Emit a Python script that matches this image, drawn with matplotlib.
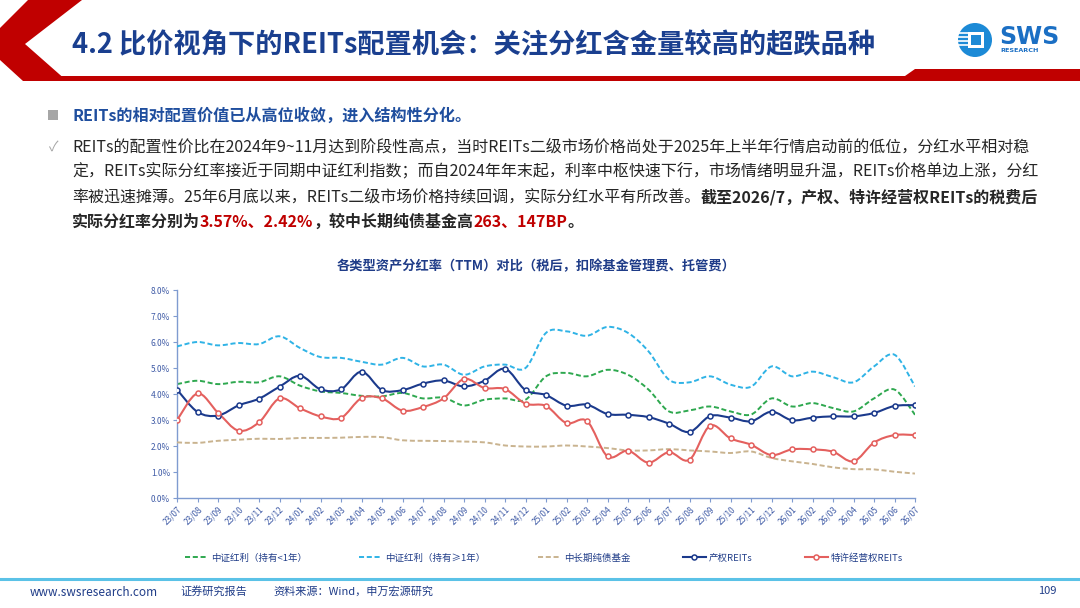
import matplotlib
matplotlib.use('Agg')
import matplotlib.pyplot as plt
from matplotlib.lines import Line2D
from matplotlib.path import Path
from matplotlib.patches import PathPatch, Polygon, Rectangle, Circle

plt.rcParams['font.family'] = ['Noto Sans CJK SC', 'DejaVu Sans']

months = ['23/07', '23/08', '23/09', '23/10', '23/11', '23/12', '24/01', '24/02', '24/03',
          '24/04', '24/05', '24/06', '24/07', '24/08', '24/09', '24/10', '24/11', '24/12',
          '25/01', '25/02', '25/03', '25/04', '25/05', '25/06', '25/07', '25/08', '25/09',
          '25/10', '25/11', '25/12', '26/01', '26/02', '26/03', '26/04', '26/05', '26/06', '26/07']

# 分红率 (%)
dividend_lt1 = [4.38, 4.51, 4.38, 4.47, 4.45, 4.68, 4.32, 4.10, 4.04, 3.93, 3.91, 4.04, 3.83,
                3.86, 3.56, 3.78, 3.83, 3.78, 4.68, 4.81, 4.68, 4.93, 4.74, 4.17, 3.33, 3.37,
                3.52, 3.33, 3.21, 3.83, 3.52, 3.65, 3.46, 3.33, 3.83, 4.17, 3.20]
dividend_ge1 = [5.83, 6.00, 5.87, 5.96, 5.92, 6.22, 5.77, 5.42, 5.39, 5.24, 5.13, 5.39, 5.06,
                5.13, 4.74, 5.06, 5.13, 5.00, 6.35, 6.41, 6.24, 6.58, 6.35, 5.64, 4.55, 4.45,
                4.68, 4.36, 4.28, 5.06, 4.68, 4.86, 4.65, 4.45, 5.06, 5.51, 4.29]
bond_fund = [2.14, 2.12, 2.20, 2.24, 2.28, 2.27, 2.31, 2.31, 2.32, 2.35, 2.34, 2.22, 2.20,
             2.19, 2.17, 2.14, 2.02, 1.98, 1.98, 2.02, 1.98, 1.92, 1.83, 1.83, 1.88, 1.83,
             1.79, 1.73, 1.79, 1.54, 1.41, 1.31, 1.18, 1.11, 1.10, 1.01, 0.94]
reits_property = [4.17, 3.31, 3.17, 3.56, 3.82, 4.28, 4.70, 4.18, 4.18, 4.86, 4.15, 4.15, 4.40,
                  4.52, 4.29, 4.51, 4.97, 4.15, 3.96, 3.55, 3.59, 3.23, 3.20, 3.11, 2.86, 2.54,
                  3.15, 3.09, 2.95, 3.32, 2.99, 3.09, 3.14, 3.14, 3.27, 3.54, 3.57]
reits_franchise = [2.99, 4.02, 3.28, 2.59, 2.91, 3.83, 3.45, 3.14, 3.08, 3.84, 3.83, 3.36, 3.50,
                   3.83, 4.58, 4.23, 4.19, 3.63, 3.54, 2.88, 2.96, 1.60, 1.82, 1.36, 1.76, 1.47,
                   2.78, 2.29, 2.05, 1.65, 1.87, 1.87, 1.78, 1.41, 2.13, 2.42, 2.42]

labels = ['中证红利（持有<1年）', '中证红利（持有≥1年）', '中长期纯债基金', '产权REITs', '特许经营权REITs']
colors = ['#2EA84F', '#2FB3E6', '#C9B38F', '#1B3A8C', '#E4605E']

W, H = 1080, 608
NAVY = '#1A3F8F'
DASH = (0, (2.6, 1.4))


def smooth_path(xs, ys):
    # excel-style smoothed line (catmull-rom as cubic bezier)
    n = len(xs)
    verts = [(xs[0], ys[0])]
    codes = [Path.MOVETO]
    for i in range(n - 1):
        a, b = max(i - 1, 0), min(i + 2, n - 1)
        c1 = (xs[i] + (xs[i + 1] - xs[a]) / 6, ys[i] + (ys[i + 1] - ys[a]) / 6)
        c2 = (xs[i + 1] - (xs[b] - xs[i]) / 6, ys[i + 1] - (ys[b] - ys[i]) / 6)
        verts += [c1, c2, (xs[i + 1], ys[i + 1])]
        codes += [Path.CURVE4] * 3
    return Path(verts, codes)


def draw_runs(ax, x, y, runs, size, renderer):
    for s, color, weight in runs:
        t = ax.text(x, y, s, fontsize=size, color=color, fontweight=weight, va='center', ha='left')
        x += t.get_window_extent(renderer).width


fig = plt.figure(figsize=(W / 100, H / 100), dpi=100)
fig.patch.set_facecolor('white')
bg = fig.add_axes([0, 0, 1, 1])
bg.set_xlim(0, W)
bg.set_ylim(H, 0)
bg.axis('off')
renderer = fig.canvas.get_renderer()

# header
bg.add_patch(Polygon([(28, 0), (82, 0), (25, 44), (67, 81), (23, 81), (0, 60), (0, 28)],
                     closed=True, color='#C00000', lw=0))
bg.add_patch(Polygon([(60, 76), (905, 76), (915, 69), (1080, 69), (1080, 81), (60, 81)],
                     closed=True, color='#C00000', lw=0))
bg.text(72, 45, '4.2 比价视角下的REITs配置机会：关注分红含金量较高的超跌品种', fontsize=19.6,
        fontweight='bold', color=NAVY, va='center', ha='left')

# logo
bg.add_patch(Circle((975, 40), 17, color='#1C8AD6', lw=0))
bg.add_patch(Rectangle((968, 32), 16, 16, color='white', lw=0))
bg.add_patch(Rectangle((971, 35), 10, 10, color='#1C8AD6', lw=0))
for yy in [33, 37, 41, 45]:
    bg.plot([958, 968], [yy, yy], color='white', lw=1.2)
bg.text(999, 37, 'SWS', fontsize=17, fontweight='bold', color='#1B6FC4', va='center', ha='left',
        family='DejaVu Sans')
bg.text(1000, 51, 'RESEARCH', fontsize=4.6, fontweight='bold', color='#1B6FC4', va='center',
        ha='left', family='DejaVu Sans')

# bullet text
bg.add_patch(Rectangle((48, 110), 10, 10, color='#A6A6A6', lw=0))
bg.text(72, 116, 'REITs的相对配置价值已从高位收敛，进入结构性分化。', fontsize=11.6,
        fontweight='bold', color='#1F4E9E', va='center', ha='left')
bg.text(49, 147, '✓', fontsize=10, color='#A6A6A6', va='center', ha='left')

TXT = '#262626'
RED = '#C00000'
body = [
    [('REITs的配置性价比在2024年9~11月达到阶段性高点，当时REITs二级市场价格尚处于2025年上半年行情启动前的低位，分红水平相对稳', TXT, 'normal')],
    [('定，REITs实际分红率接近于同期中证红利指数；而自2024年年末起，利率中枢快速下行，市场情绪明显升温，REITs价格单边上涨，分红', TXT, 'normal')],
    [('率被迅速摊薄。25年6月底以来，REITs二级市场价格持续回调，实际分红水平有所改善。', TXT, 'normal'),
     ('截至2026/7，产权、特许经营权REITs的税费后', TXT, 'bold')],
    [('实际分红率分别为', TXT, 'bold'), ('3.57%、2.42%', RED, 'bold'),
     ('，较中长期纯债基金高', TXT, 'bold'), ('263、147BP', RED, 'bold'), ('。', TXT, 'bold')],
]
for k, runs in enumerate(body):
    draw_runs(bg, 72, 147 + 25 * k, runs, 11.5, renderer)

# chart title
bg.text(536, 266, '各类型资产分红率（TTM）对比（税后，扣除基金管理费、托管费）', fontsize=9.5,
        fontweight='bold', color='#1F3C88', va='center', ha='center')

# footer
bg.plot([0, W], [579, 579], color='#5BC2E7', lw=2.2)
bg.text(30, 592, 'www.swsresearch.com', fontsize=8.5, color='#1F3C88', va='center', ha='left')
bg.text(180, 591, '证券研究报告', fontsize=8, color='#1F3C88', va='center', ha='left')
bg.text(273, 591, '资料来源：Wind，申万宏源研究', fontsize=8, color='#1F3C88', va='center', ha='left')
bg.text(1057, 591, '109', fontsize=8, color='#1F3C88', va='center', ha='right')

# chart
ax = fig.add_axes([177 / W, 1 - 498 / H, (915 - 177) / W, (498 - 290) / H])
ax.patch.set_alpha(0)
x = list(range(len(months)))
series = [dividend_lt1, dividend_ge1, bond_fund, reits_property, reits_franchise]
handles = []
for i, (ys, c, lab) in enumerate(zip(series, colors, labels)):
    dashed = i < 3
    ax.add_patch(PathPatch(smooth_path(x, ys), fill=False, edgecolor=c,
                           lw=1.4 if dashed else 1.5, linestyle=DASH if dashed else '-',
                           zorder=2 + i))
    if dashed:
        handles.append(Line2D([], [], color=c, lw=1.4, linestyle=DASH))
    else:
        ax.plot(x, ys, linestyle='none', marker='o', markersize=3.6, markerfacecolor='white',
                markeredgecolor=c, markeredgewidth=1.1, zorder=8 + i)
        handles.append(Line2D([], [], color=c, lw=1.5, marker='o', markersize=3.6,
                              markerfacecolor='white', markeredgecolor=c, markeredgewidth=1.1))

ax.set_xlim(0, len(months) - 1)
ax.set_ylim(0, 8)
ax.set_yticks(range(9))
ax.set_yticklabels(['%.1f%%' % v for v in range(9)])
ax.set_xticks(x)
ax.set_xticklabels(months, rotation=45, ha='right', va='top', rotation_mode='anchor')
for s in ['top', 'right']:
    ax.spines[s].set_visible(False)
for s in ['left', 'bottom']:
    ax.spines[s].set_color('#7F9BD0')
    ax.spines[s].set_linewidth(1.0)
ax.tick_params(axis='both', colors='#7F9BD0', labelcolor='#3F5BA6', labelsize=6, length=3,
               width=0.8, pad=2)

fig.legend(handles, labels, loc='center', bbox_to_anchor=(544 / W, 1 - 558 / H), ncol=5,
           frameon=False, fontsize=6.8, handlelength=2.4, handletextpad=0.3, columnspacing=5.6,
           labelcolor='#1F3C88')

fig.savefig('out.png', dpi=100)
